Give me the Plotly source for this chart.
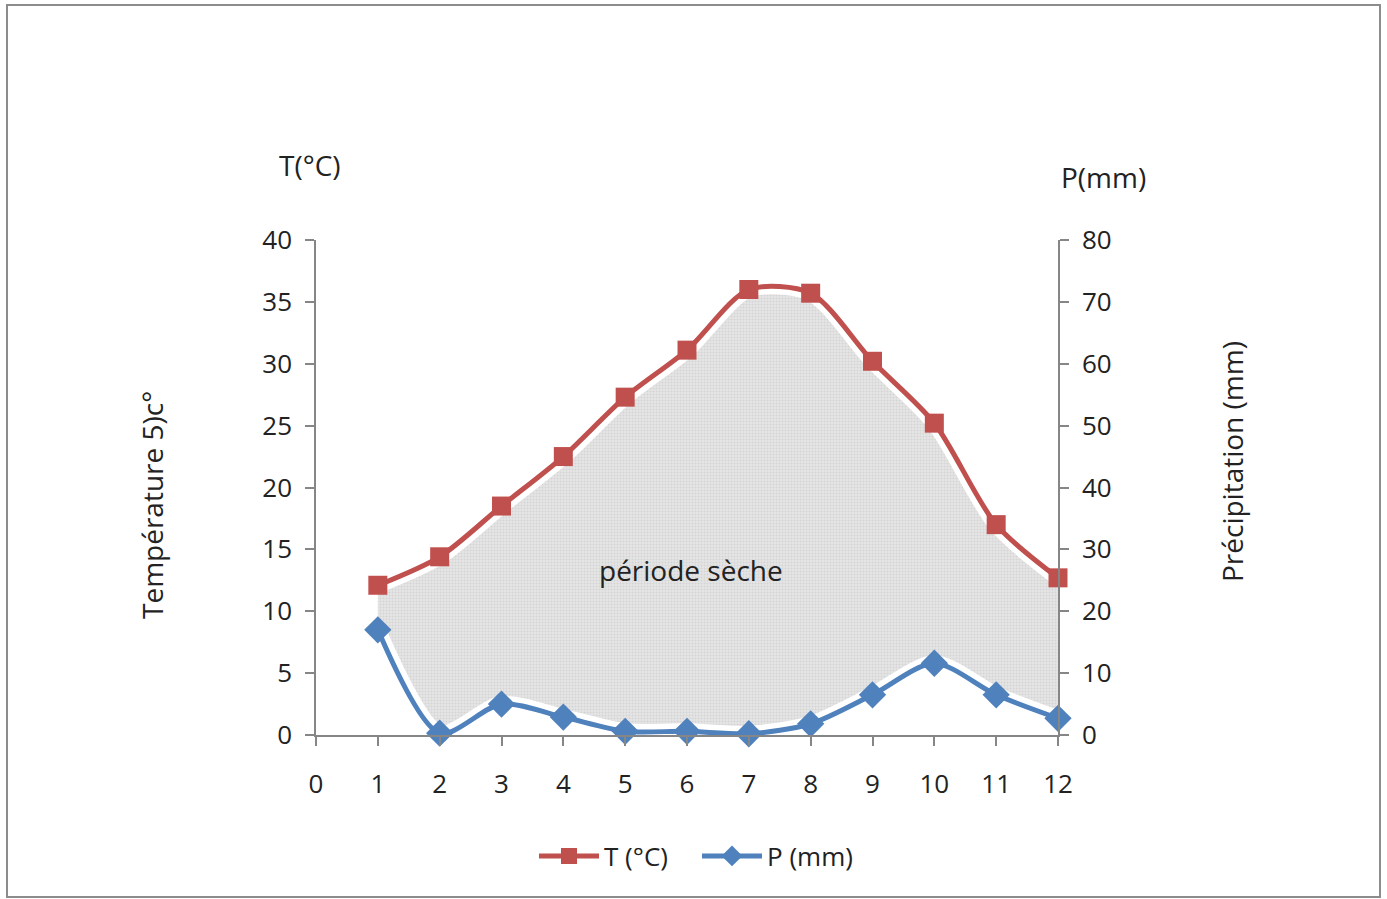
import plotly.graph_objects as go

months = [1, 2, 3, 4, 5, 6, 7, 8, 9, 10, 11, 12]
temp_c = [12.1, 14.4, 18.5, 22.5, 27.3, 31.1, 36.0, 35.7, 30.2, 25.2, 17.0, 12.7]
precip_mm = [17.0, 0.3, 5.0, 2.9, 0.6, 0.6, 0.2, 1.8, 6.5, 11.6, 6.5, 2.7]
x_ticks = list(range(0, 13))

W, H = 1387, 899
L, R, T, B = 316, 1058, 240, 735

RED = "#C0504D"
BLUE = "#4F81BD"
AX = "#868686"
FONT = "Open Sans"
FS = 26
FT = 28

def px(x):
    return (x - L) / (R - L)

def py(y):
    return (B - y) / (B - T)

fig = go.Figure()

# dry period fill (precipitation expressed on the temperature scale, P = 2T)
p_half = [p / 2 for p in precip_mm]
fig.add_trace(go.Scatter(x=months, y=p_half, mode="lines",
                         line=dict(color="white", width=16, shape="spline", smoothing=0.8),
                         showlegend=False, hoverinfo="skip"))
fig.add_trace(go.Scatter(x=months, y=temp_c, mode="lines", fill="tonexty",
                         fillcolor="#e2e2e2",
                         fillpattern=dict(shape=".", fgcolor="#c2c2c2", bgcolor="#e6e6e6",
                                          size=3, solidity=0.4),
                         line=dict(color="white", width=16, shape="spline", smoothing=0.8),
                         showlegend=False, hoverinfo="skip"))

fig.add_trace(go.Scatter(x=months, y=temp_c, name="T (°C)", mode="lines+markers",
                         legendrank=1, cliponaxis=False,
                         line=dict(color=RED, width=5, shape="spline", smoothing=0.8),
                         marker=dict(symbol="square", size=19, color=RED)))
fig.add_trace(go.Scatter(x=months, y=precip_mm, name="P (mm)", mode="lines+markers",
                         yaxis="y2", legendrank=2, cliponaxis=False,
                         line=dict(color=BLUE, width=5, shape="spline", smoothing=0.8),
                         marker=dict(symbol="diamond", size=21, color=BLUE)))

axis_common = dict(showgrid=False, zeroline=False, showline=True, linecolor=AX, linewidth=1.5,
                   ticks="outside", tickcolor=AX, ticklen=9, tickwidth=1.5,
                   tickfont=dict(family=FONT, size=FS, color="#222"))

fig.update_layout(
    width=W, height=H,
    margin=dict(l=L, r=W - R, t=T, b=H - B),
    paper_bgcolor="white", plot_bgcolor="white",
    font=dict(family=FONT, size=FS, color="#222"),
    xaxis=dict(range=[0, 12], tickvals=x_ticks, ticklabelstandoff=16, **axis_common),
    yaxis=dict(range=[0, 40], dtick=5, ticklabelstandoff=8, **axis_common),
    yaxis2=dict(range=[0, 80], dtick=10, overlaying="y", side="right", ticklabelstandoff=8,
                **axis_common),
    legend=dict(orientation="h", x=px(697), y=py(856), xanchor="center", yanchor="middle",
                font=dict(family=FONT, size=FS, color="#222"), itemwidth=60,
                entrywidth=88, entrywidthmode="pixels",
                traceorder="normal", bgcolor="rgba(0,0,0,0)"),
    showlegend=True,
)

annots = [
    dict(text="T(°C)", x=px(310), y=py(165)),
    dict(text="P(mm)", x=px(1103), y=py(177)),
    dict(text="Température 5)c°", x=px(152), y=py(505), textangle=-90),
    dict(text="Précipitation (mm)", x=px(1232), y=py(462), textangle=-90),
    dict(text="période sèche", x=px(691), y=py(570)),
]
for a in annots:
    fig.add_annotation(xref="paper", yref="paper", showarrow=False,
                       xanchor="center", yanchor="middle",
                       font=dict(family=FONT, size=FT, color="#222"), **a)

fig.add_shape(type="rect", xref="paper", yref="paper",
              x0=px(7), x1=px(1380), y0=py(897), y1=py(5),
              line=dict(color="#8c8c8c", width=2), fillcolor="rgba(0,0,0,0)", layer="below")

fig.write_html("out.html")
